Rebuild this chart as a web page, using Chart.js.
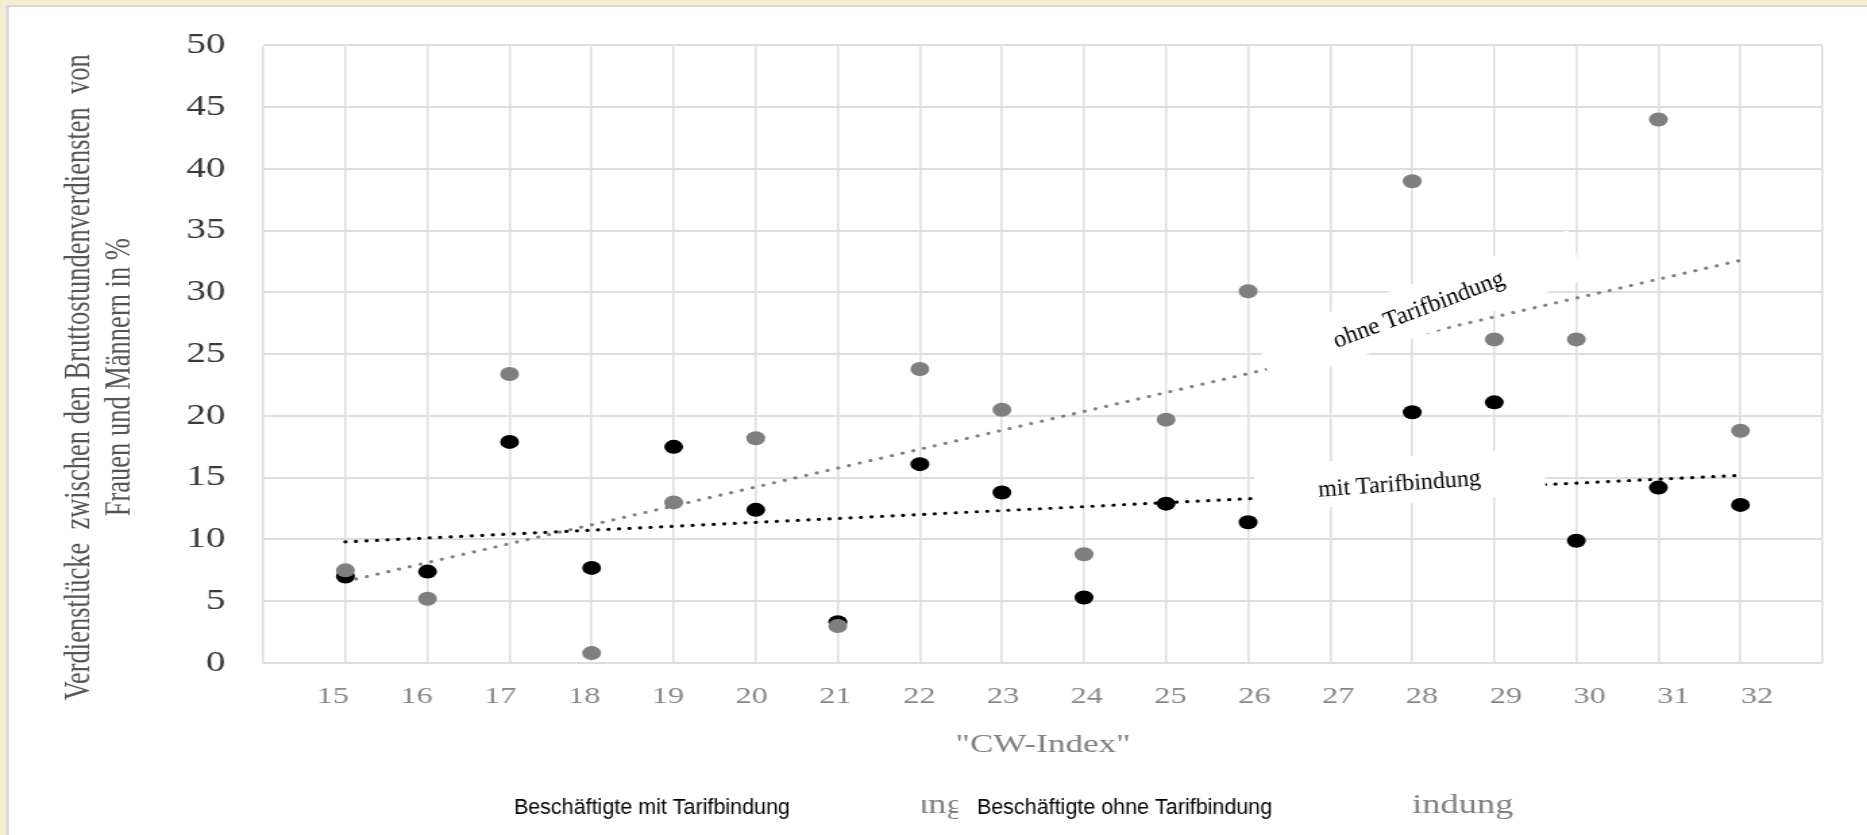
<!DOCTYPE html>
<html>
<head>
<meta charset="utf-8">
<script src="https://cdn.jsdelivr.net/npm/chart.js@4.4.1/dist/chart.umd.min.js"></script>
<style>
    html, body { margin: 0; padding: 0; }
    body { width: 1867px; height: 835px; background: #f7edd6; position: relative; overflow: hidden; }
    #frame { position: absolute; left: 6px; top: 5px; right: -20px; bottom: -20px; background: #fff;
             border-left: 3px solid #d9d9d9; border-top: 2px solid #d9d9d9; }
    /* the source picture is stretched sideways, so the chart is drawn narrow and widened */
    #wrap { position: absolute; left: 0; top: 0; width: 1383px; height: 835px;
            transform: scaleX(1.35); transform-origin: 0 0; }
</style>
</head>
<body>
<div id="frame"></div>
<div id="wrap"><canvas id="gapChart"></canvas></div>
<script>
"use strict";

const cwIndex = [15, 16, 17, 18, 19, 20, 21, 22, 23, 24, 25, 26, 28, 29, 30, 31, 32];
const gapMit = [7.0, 7.4, 17.9, 7.7, 17.5, 12.4, 3.3, 16.1, 13.8, 5.3, 12.9, 11.4, 20.3, 21.1, 9.9, 14.2, 12.8];
const gapOhne = [7.5, 5.2, 23.4, 0.8, 13.0, 18.2, 3.0, 23.8, 20.5, 8.8, 19.7, 30.1, 39.0, 26.2, 26.2, 44.0, 18.8];

const trendX = [15, 32];
const trendMit = [9.8, 15.2];
const trendOhne = [6.6, 32.6];

const xTickLabels = [15, 16, 17, 18, 19, 20, 21, 22, 23, 24, 25, 26, 27, 28, 29, 30, 31, 32];
const yTicks = [0, 5, 10, 15, 20, 25, 30, 35, 40, 45, 50];

const seriesLabels = ['Beschäftigte mit Tarifbindung', 'Beschäftigte ohne Tarifbindung'];
const yTitle = ['Verdienstlücke  zwischen den Bruttostundenverdiensten  von', 'Frauen und Männern in %'];
const xTitle = '"CW-Index"';

const S = 1.35;
const SERIF = '"Liberation Serif", "Times New Roman", serif';
const SANS = '"Liberation Sans", Arial, sans-serif';
const GRID = '#dedede';

// white pasted boxes carrying the trend labels
const trendLabels = [
    {text: 'ohne Tarifbindung', bx: 28.10, by: 28.7, w: 330, h: 52, boxAngle: -19,
        tx: 28.11, ty: 28.08, textAngle: -20.7, size: 24.5},
    {text: 'mit Tarifbindung', bx: 27.85, by: 14.82, w: 290, h: 46, boxAngle: -3.5,
        tx: 27.85, ty: 13.94, textAngle: -4.1, size: 24}
];

const toPoints = (xs, ys) => xs.map((x, i) => ({x: x, y: ys[i]}));

const decorations = {
    id: 'decorations',
    afterDatasetsDraw(chart) {
        const {ctx, scales: {x, y}} = chart;
        trendLabels.forEach(l => {
            ctx.save();
            ctx.scale(1 / S, 1);
            ctx.translate(x.getPixelForValue(l.bx) * S, y.getPixelForValue(l.by));
            ctx.rotate(l.boxAngle * Math.PI / 180);
            ctx.fillStyle = '#fff';
            ctx.fillRect(-l.w / 2, -l.h / 2, l.w, l.h);
            ctx.restore();

            ctx.save();
            ctx.scale(1 / S, 1);
            ctx.translate(x.getPixelForValue(l.tx) * S, y.getPixelForValue(l.ty));
            ctx.rotate(l.textAngle * Math.PI / 180);
            ctx.font = l.size + 'px ' + SERIF;
            ctx.fillStyle = '#000';
            ctx.textAlign = 'center';
            ctx.textBaseline = 'alphabetic';
            ctx.fillText(l.text, 0, 0);
            ctx.restore();
        });
    },
    afterDraw(chart) {
        const {ctx, chartArea: ca} = chart;

        // y axis title, two rotated lines
        ctx.save();
        ctx.font = '26.5px ' + SERIF;
        ctx.fillStyle = '#555';
        ctx.textAlign = 'center';
        ctx.textBaseline = 'middle';
        const midY = (ca.top + ca.bottom) / 2 + 23;
        yTitle.forEach((line, i) => {
            ctx.save();
            ctx.translate(ca.left - 135.8 + i * 29.6, midY);
            ctx.rotate(-Math.PI / 2);
            ctx.fillText(line, 0, 0);
            ctx.restore();
        });
        ctx.restore();

        // left-overs of the old legend under the new one
        ctx.save();
        ctx.font = '27px ' + SERIF;
        ctx.fillStyle = '#808080';
        ctx.textBaseline = 'alphabetic';
        ctx.fillText('indung', 1046, 813);
        ctx.beginPath();
        ctx.rect(683, 790, 26.6, 40);
        ctx.clip();
        ctx.fillText('ung', 674, 813);
        ctx.restore();

        // legend, text only
        ctx.save();
        ctx.scale(1 / S, 1);
        ctx.font = '21.5px ' + SANS;
        ctx.fillStyle = '#000';
        ctx.textAlign = 'left';
        ctx.textBaseline = 'alphabetic';
        const items = chart.data.datasets.slice(0, 2).map(d => d.label);
        const widths = items.map(t => ctx.measureText(t).width);
        const gap = 187;
        let lx = 893 - (widths[0] + gap + widths[1]) / 2;
        items.forEach((t, i) => {
            ctx.fillText(t, lx, chart.height - 21);
            lx += widths[i] + gap;
        });
        ctx.restore();
    }
};

new Chart(document.getElementById('gapChart'), {
    type: 'scatter',
    data: {
        datasets: [
            {
                label: seriesLabels[0],
                data: toPoints(cwIndex, gapMit),
                backgroundColor: '#000',
                borderColor: '#000',
                borderWidth: 0,
                pointRadius: 7,
                order: 1
            },
            {
                label: seriesLabels[1],
                data: toPoints(cwIndex, gapOhne),
                backgroundColor: '#7f7f7f',
                borderColor: '#7f7f7f',
                borderWidth: 0,
                pointRadius: 7,
                order: 0
            },
            {
                type: 'line',
                label: 'Trend mit Tarifbindung',
                data: toPoints(trendX, trendMit),
                borderColor: '#000',
                borderWidth: 3.2,
                borderDash: [0.01, 7.8],
                borderCapStyle: 'round',
                pointRadius: 0,
                fill: false,
                order: 3
            },
            {
                type: 'line',
                label: 'Trend ohne Tarifbindung',
                data: toPoints(trendX, trendOhne),
                borderColor: '#808080',
                borderWidth: 3.2,
                borderDash: [0.01, 8.3],
                borderCapStyle: 'round',
                pointRadius: 0,
                fill: false,
                order: 2
            }
        ]
    },
    options: {
        responsive: true,
        maintainAspectRatio: false,
        animation: false,
        layout: {padding: {left: 0, right: 33, top: 39, bottom: 74.4}},
        plugins: {
            legend: {display: false},
            tooltip: {enabled: false}
        },
        scales: {
            x: {
                type: 'linear',
                position: 'bottom',
                weight: 0,
                min: 14,
                max: 33,
                ticks: {stepSize: 1, display: false},
                grid: {color: GRID, lineWidth: 1.5, drawTicks: false},
                border: {color: GRID, width: 1.5},
                afterFit: (scale) => {
                    scale.height = 0;
                }
            },
            xl: {
                type: 'linear',
                position: 'bottom',
                weight: 1,
                min: 14.173,
                max: 32.78,
                afterBuildTicks: (scale) => {
                    scale.ticks = xTickLabels.map(v => ({value: v}));
                },
                afterFit: (scale) => {
                    scale.height = 97.6;
                },
                grid: {display: false, drawTicks: false},
                border: {display: false},
                ticks: {
                    padding: 19.5,
                    autoSkip: false,
                    maxRotation: 0,
                    color: '#888',
                    font: {family: SERIF, size: 24}
                },
                title: {
                    display: true,
                    text: xTitle,
                    color: '#7f7f7f',
                    padding: 0,
                    font: {family: SERIF, size: 26}
                }
            },
            y: {
                min: 0,
                max: 50,
                afterBuildTicks: (scale) => {
                    scale.ticks = yTicks.map(v => ({value: v}));
                },
                afterFit: (scale) => {
                    scale.width = 195.1;
                },
                grid: {color: GRID, lineWidth: 2, drawTicks: false},
                border: {display: false},
                ticks: {
                    padding: 28,
                    color: '#3a3a3a',
                    font: {family: SERIF, size: 29}
                }
            }
        }
    },
    plugins: [decorations]
});
</script>
</body>
</html>
